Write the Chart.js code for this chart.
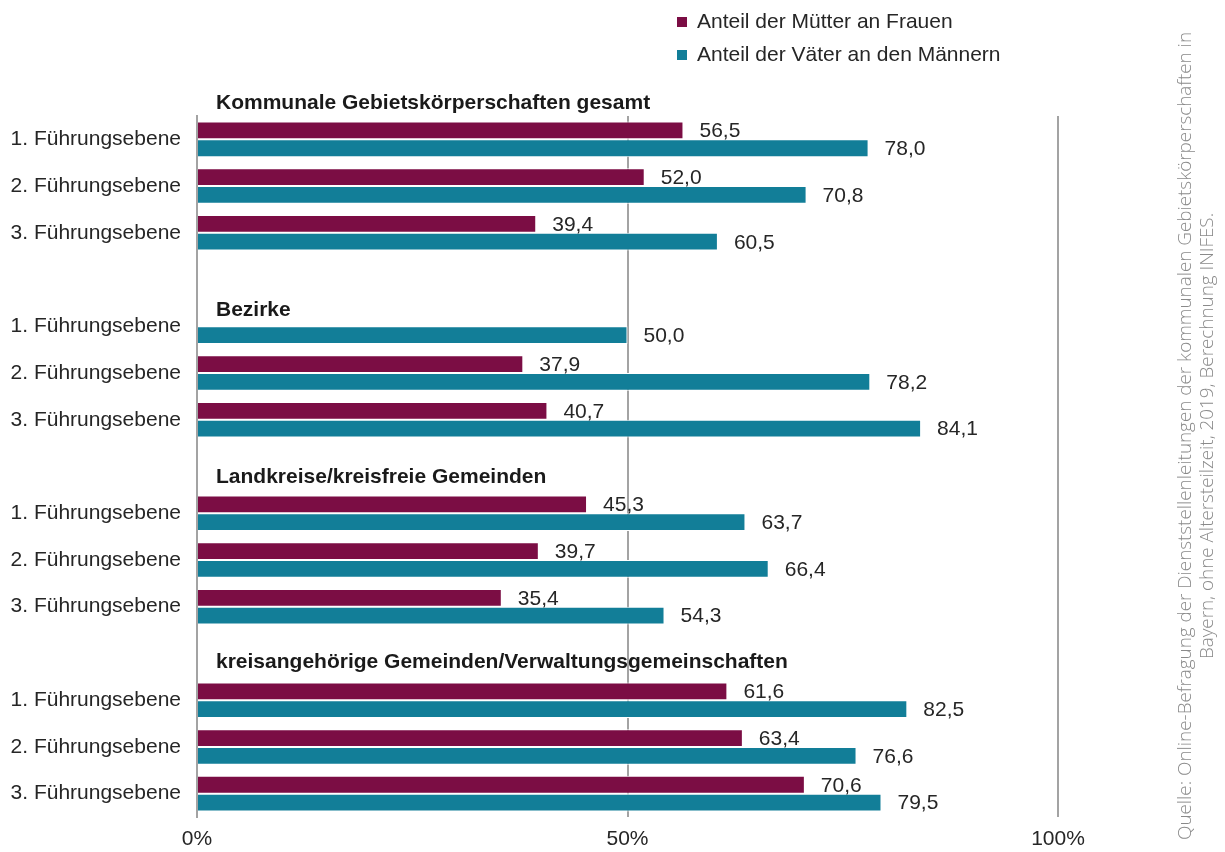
<!DOCTYPE html>
<html lang="de">
<head>
<meta charset="utf-8">
<title>Anteil Mütter / Väter in Führungsebenen</title>
<script src="https://cdn.jsdelivr.net/npm/chart.js@4/dist/chart.umd.min.js"></script>
<style>
  html, body { margin: 0; padding: 0; background: #ffffff; }
  #wrap { width: 1225px; height: 852px; position: relative; }
</style>
</head>
<body>
<div id="wrap"><canvas id="c" width="1225" height="852"></canvas></div>
<script>
// ---- data ----
const levels = ['1. Führungsebene', '2. Führungsebene', '3. Führungsebene'];
const groupTitles = [
  'Kommunale Gebietskörperschaften gesamt',
  'Bezirke',
  'Landkreise/kreisfreie Gemeinden',
  'kreisangehörige Gemeinden/Verwaltungsgemeinschaften'
];
const seriesNames = ['Anteil der Mütter an Frauen', 'Anteil der Väter an den Männern'];
const muetter = [
  [56.5, 52.0, 39.4],
  [null, 37.9, 40.7],
  [45.3, 39.7, 35.4],
  [61.6, 63.4, 70.6]
];
const vaeter = [
  [78.0, 70.8, 60.5],
  [50.0, 78.2, 84.1],
  [63.7, 66.4, 54.3],
  [82.5, 76.6, 79.5]
];
const xTicks = [0, 50, 100];
const sourceLines = [
  'Quelle: Online-Befragung der Dienststellenleitungen der kommunalen Gebietskörperschaften in',
  'Bayern, ohne Altersteilzeit, 2019, Berechnung INIFES.'
];

// ---- styles ----
const FONT = '"Liberation Sans", Arial, Helvetica, sans-serif';
const colors = ['#7B0D44', '#127E98'];
const textColor = '#262626';
const gridColor = '#A3A3A3';
const titleOffsets = [-30, -10, -30, -32];

// ---- build categories ----
const categories = [];
const dataM = [];
const dataV = [];
const groupStart = [];
groupTitles.forEach((t, g) => {
  groupStart.push(categories.length);
  levels.forEach((lv, i) => {
    categories.push(lv);
    dataM.push(muetter[g][i]);
    dataV.push(vaeter[g][i]);
  });
  if (g < groupTitles.length - 1) {
    categories.push('');
    dataM.push(null);
    dataV.push(null);
  }
});

const fmt = v => v.toFixed(1).replace('.', ',');

const overlay = {
  id: 'overlay',
  afterDatasetsDraw(chart) {
    const ctx = chart.ctx;
    const area = chart.chartArea;
    const yScale = chart.scales.y;
    ctx.save();
    // value labels
    ctx.font = '21px ' + FONT;
    ctx.fillStyle = textColor;
    ctx.textAlign = 'left';
    ctx.textBaseline = 'middle';
    chart.data.datasets.forEach((ds, di) => {
      const meta = chart.getDatasetMeta(di);
      meta.data.forEach((el, i) => {
        const v = ds.data[i];
        if (v === null || v === undefined) return;
        ctx.fillText(fmt(v), el.x + 16, el.y + 1);
      });
    });
    // group titles
    ctx.font = 'bold 21px ' + FONT;
    ctx.textBaseline = 'alphabetic';
    ctx.fillStyle = '#1a1a1a';
    groupTitles.forEach((t, g) => {
      const y = yScale.getPixelForValue(groupStart[g]) + titleOffsets[g];
      ctx.fillText(t, area.left + 19, y);
    });
    // legend
    ctx.font = '21px ' + FONT;
    ctx.textBaseline = 'middle';
    ctx.fillStyle = textColor;
    chart.data.datasets.forEach((ds, di) => {
      const cy = 22 + di * 33;
      ctx.fillStyle = ds.backgroundColor;
      ctx.fillRect(677, cy - 5, 10, 10);
      ctx.fillStyle = textColor;
      ctx.fillText(ds.label, 697, cy);
    });
    // source note (rotated)
    ctx.fillStyle = '#8A8A8A';
    ctx.font = '300 18px "Open Sans", "DejaVu Sans", sans-serif';
    ctx.textAlign = 'center';
    ctx.textBaseline = 'alphabetic';
    const w1 = ctx.measureText(sourceLines[0]).width;
    const sx = 808 / w1;
    const baseX = [1191, 1213];
    sourceLines.forEach((line, li) => {
      ctx.save();
      ctx.translate(baseX[li], 436);
      ctx.rotate(-Math.PI / 2);
      ctx.scale(sx, 1);
      ctx.fillText(line, 0, 0);
      ctx.restore();
    });
    ctx.restore();
  }
};

new Chart(document.getElementById('c'), {
  type: 'bar',
  data: {
    labels: categories,
    datasets: [
      {
        label: seriesNames[0],
        data: dataM,
        backgroundColor: colors[0],
        borderColor: '#ffffff',
        borderWidth: 1,
        borderSkipped: 'start'
      },
      {
        label: seriesNames[1],
        data: dataV,
        backgroundColor: colors[1],
        borderColor: '#ffffff',
        borderWidth: 1,
        borderSkipped: 'start'
      }
    ]
  },
  options: {
    indexAxis: 'y',
    responsive: false,
    animation: false,
    events: [],
    categoryPercentage: 0.76,
    barPercentage: 1.0,
    layout: { padding: { top: 116, right: 167, bottom: 0, left: 0 } },
    plugins: {
      legend: { display: false },
      tooltip: { enabled: false },
      title: { display: false }
    },
    scales: {
      x: {
        min: 0,
        max: 100,
        afterBuildTicks(scale) { scale.ticks = xTicks.map(v => ({ value: v })); },
        afterFit(scale) { scale.height = 35; },
        ticks: {
          callback: v => v + '%',
          color: textColor,
          font: { family: FONT, size: 21 },
          padding: 10,
          maxRotation: 0
        },
        grid: {
          drawTicks: false,
          color: ctx => (ctx.tick && ctx.tick.value === 0) ? 'rgba(0,0,0,0)' : gridColor,
          lineWidth: 2
        },
        border: { display: false }
      },
      y: {
        z: 1,
        afterFit(scale) { scale.width = 197; },
        ticks: {
          color: textColor,
          font: { family: FONT, size: 21 },
          padding: 16,
          autoSkip: false
        },
        grid: { display: false, drawTicks: false },
        border: { display: true, color: gridColor, width: 2 }
      }
    }
  },
  plugins: [overlay]
});
</script>
</body>
</html>
